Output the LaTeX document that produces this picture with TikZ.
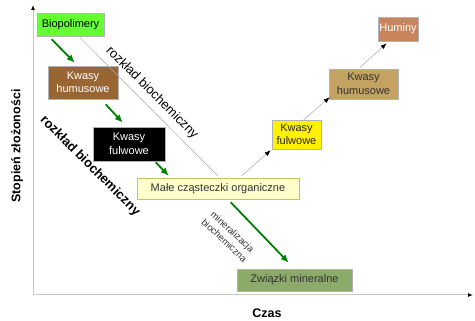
\documentclass[tikz,border=0pt]{standalone}
\usepackage{fontspec}
\setmainfont{Liberation Sans}
\usepackage{tikz}
\usetikzlibrary{shapes,arrows.meta,positioning,calc}

\definecolor{biogreen}{HTML}{66FF33}
\definecolor{humbrown}{HTML}{996633}
\definecolor{humtan}{HTML}{C4A262}
\definecolor{huminc}{HTML}{C8845A}
\definecolor{smallyel}{HTML}{FFFFCC}
\definecolor{minergreen}{HTML}{8CAA6A}
\definecolor{arrowgreen}{HTML}{008000}

\begin{document}
\begin{tikzpicture}[
    x=1pt, y=-1pt,
    block/.style={rectangle, draw=gray!60, line width=0.6pt, inner sep=1pt, align=center, font=\fontsize{11}{13.5}\selectfont},
    greenline/.style={draw=arrowgreen, line width=1.8pt, -{Latex[length=8pt,width=7pt]}},
    thinline/.style={draw=gray!70, line width=0.5pt},
    thinarrow/.style={draw=gray!70, line width=0.5pt, -{Latex[black,length=6pt,width=4.5pt]}},
    axis/.style={draw=gray!45, line width=1pt, -{Latex[black,length=5pt,width=4pt]}},
    axislabel/.style={font=\fontsize{12.5}{14}\selectfont\bfseries}
]
    \useasboundingbox (0,0) rectangle (475,321);

    % axes
    \coordinate (origin) at (33,295);
    \coordinate (ytop) at (33,5);
    \coordinate (xend) at (473,295);
    \draw [axis] (origin) -- (ytop);
    \draw [axis] (origin) -- (xend);
    \node [axislabel, rotate=90] (ylab) at (17,146) {Stopień złożoności};
    \node [axislabel] (xlab) at (267,313) {Czas};

    % left branch
    \node [block, fill=biogreen, minimum width=67pt, minimum height=23pt] (bio) at (70.5,24.5) {Biopolimery};
    \node [block, fill=humbrown, text=white, minimum width=70pt, minimum height=33pt] (humL) at (83,82.5) {Kwasy\\humusowe};
    \node [block, fill=black, text=white, minimum width=72pt, minimum height=34pt] (fulL) at (129,144) {Kwasy\\fulwowe};
    \node [block, fill=smallyel, draw=olive!50, text=black!80, minimum width=162pt, minimum height=21pt] (male) at (218,188.5) {Małe cząsteczki organiczne};
    \node [block, fill=minergreen, text=black!80, minimum width=115pt, minimum height=22pt] (miner) at (294.5,280) {Związki mineralne};

    % right branch
    \node [block, fill=yellow, text=black!85, minimum width=49pt, minimum height=29pt] (fulR) at (296.5,134.5) {Kwasy\\fulwowe};
    \node [block, fill=humtan, text=black!80, minimum width=69pt, minimum height=30pt] (humR) at (363.5,84) {Kwasy\\humusowe};
    \node [block, fill=huminc, text=white, minimum width=40pt, minimum height=24pt] (humin) at (398,29) {Huminy};

    % green arrows
    \draw [greenline] ($(bio.south west)+(15,3)$) -- ($(humL.north west)+(27,-3)$);
    \draw [greenline] ($(humL.south west)+(58,5)$) -- ($(fulL.north west)+(30,-4)$);
    \draw [greenline] ($(fulL.south west)+(63,1)$) -- ($(male.north west)+(32,-2)$);
    \draw [greenline] ($(male.south west)+(94,3)$) -- ($(miner.north west)+(52,-6)$);

    % thin lines
    \draw [thinline] ($(bio.south west)+(43,1)$) -- ($(male.north west)+(81,-2)$);
    \draw [thinarrow] ($(male.north west)+(105,-2)$) -- ($(fulR.south west)+(-1,1)$);
    \draw [thinarrow] ($(fulR.north west)+(32,0)$) -- ($(humR.south west)+(1,-2)$);
    \draw [thinarrow] ($(humR.north west)+(31,-1)$) -- ($(humin.south west)+(9,2)$);

    % labels
    \node [rotate=-45, font=\fontsize{13}{15}\selectfont] (rozk1) at (152,93) {rozkład biochemiczny};
    \node [rotate=-45, font=\fontsize{13}{15}\selectfont\bfseries] (rozk2) at (90,166) {rozkład biochemiczny};
    \node [rotate=-43, align=center, text=black!80, font=\fontsize{9.5}{12}\selectfont] (miner-lab) at (228.5,236) {mineralizacja\\biochemiczna};
\end{tikzpicture}
\end{document}
